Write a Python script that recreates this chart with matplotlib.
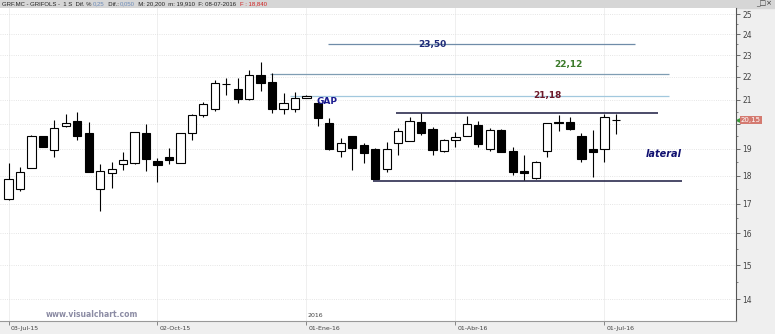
import matplotlib.pyplot as plt
import matplotlib.transforms as mtransforms
from matplotlib.patches import Rectangle
from matplotlib.ticker import FixedLocator, NullFormatter

# weekly candles GRF.MC, 03-Jul-15 .. 08-Jul-16
opens = [17.16, 17.51, 18.29, 19.50, 18.96, 19.91, 20.12, 19.61, 17.50, 18.08,
         18.43, 18.46, 19.61, 18.53, 18.68, 18.48, 19.61, 20.36, 20.59, 21.69,
         21.45, 21.02, 22.09, 21.79, 20.63, 20.63, 21.09, 20.88, 20.04, 18.93,
         19.50, 19.14, 18.99, 18.24, 19.22, 19.32, 20.08, 19.78, 18.92, 19.35,
         19.51, 19.95, 19.01, 19.74, 18.92, 18.16, 17.91, 18.92, 20.07, 20.06,
         19.51, 18.99, 18.99, 20.17]
highs = [18.46, 18.32, 19.55, 19.52, 20.15, 20.42, 20.49, 20.07, 18.41, 18.52,
         18.89, 19.66, 19.99, 18.65, 19.03, 19.62, 20.42, 20.92, 21.86, 21.94,
         21.96, 22.31, 22.66, 22.19, 21.30, 21.35, 21.21, 20.99, 20.22, 19.42,
         19.51, 19.23, 19.04, 19.28, 19.81, 20.29, 20.46, 19.88, 19.39, 19.65,
         20.33, 20.12, 19.81, 19.80, 19.09, 18.77, 18.53, 20.05, 20.36, 20.29,
         19.61, 19.74, 20.42, 20.42]
lows = [17.12, 17.45, 18.27, 19.08, 18.68, 19.87, 19.35, 18.13, 16.76, 17.55,
        18.20, 18.42, 18.17, 17.75, 18.41, 18.47, 19.35, 20.29, 20.52, 21.21,
        20.87, 21.01, 21.39, 20.45, 20.40, 20.49, 21.09, 19.91, 18.96, 18.70,
        18.20, 18.45, 17.87, 18.14, 18.77, 19.31, 19.55, 18.77, 18.90, 19.09,
        19.50, 19.09, 18.93, 18.88, 18.02, 17.83, 17.89, 18.70, 19.71, 19.76,
        18.51, 17.93, 18.51, 19.57]
closes = [17.87, 18.13, 19.50, 19.09, 19.82, 20.04, 19.51, 18.14, 18.16, 18.26,
          18.56, 19.65, 18.62, 18.39, 18.57, 19.61, 20.38, 20.82, 21.71, 21.67,
          21.05, 22.09, 21.74, 20.63, 20.88, 21.09, 21.18, 20.22, 19.01, 19.25,
          19.05, 18.86, 17.88, 18.99, 19.70, 20.10, 19.63, 18.96, 19.35, 19.46,
          19.97, 19.19, 19.73, 18.89, 18.13, 18.08, 18.52, 20.02, 20.05, 19.77,
          18.63, 18.89, 20.26, 20.15]

date_labels = ['03-Jul-15', '02-Oct-15', '01-Ene-16', '01-Abr-16', '01-Jul-16']
date_weeks = [0, 13, 26, 39, 52]
price_ticks = [14, 15, 16, 17, 18, 19, 20, 21, 22, 23, 24, 25]
price_tick_labels = ['14', '15', '16', '17', '18', '19', '', '21', '22', '23', '24', '25']

levels = [23.50, 22.12, 21.18]
level_labels = ['23,50', '22,12', '21,18']
lateral_top = 20.46
lateral_bottom = 17.80
last_price = 20.15

header_parts = ['GRF.MC - GRIFOLS -  1 S  Dif. % ', '0,25', '  Dif.: ', '0,050',
                '  M: 20,200  m: 19,910  F: 08-07-2016  ', 'F : 18,840']
header_colors = ['#222222', '#6a8ab8', '#222222', '#6a8ab8', '#222222', '#d02020']

W, H = 775, 334
fig = plt.figure(figsize=(W / 100, H / 100), dpi=100, facecolor='#efefef')
ax = fig.add_axes([0, 13 / H, 735.5 / W, 313 / H], facecolor='white')
ax.set_yscale('log')

x = list(range(len(opens)))
ax.vlines(x, lows, highs, color='black', lw=0.8, zorder=2)
for i in x:
    up = closes[i] >= opens[i]
    ax.bar(i, abs(closes[i] - opens[i]), bottom=min(opens[i], closes[i]), width=0.72,
           color='white' if up else 'black', edgecolor='black', lw=0.8, zorder=3)

# resistance levels
ax.hlines(levels[0], 27.9, 54.7, color='#6f8ca8', lw=0.9, zorder=1)
ax.hlines(levels[1], 22.8, 57.6, color='#7f9db3', lw=0.9, zorder=1)
ax.hlines(levels[2], 24.6, 57.6, color='#a2c8de', lw=0.9, zorder=1)
ax.text(37.0, levels[0], level_labels[0], color='#1e2a78', fontsize=6.5,
        fontweight='bold', ha='center', va='center', zorder=4)
ax.text(48.9, 22.55, level_labels[1], color='#3b7a2a', fontsize=6.5,
        fontweight='bold', ha='center', va='center', zorder=4)
ax.text(47.0, levels[2], level_labels[2], color='#6e1a2a', fontsize=6.5,
        fontweight='bold', ha='center', va='center', zorder=4)

# lateral channel
ax.hlines(lateral_top, 33.8, 56.7, color='#1a1a40', lw=1.1, zorder=1)
ax.hlines(lateral_bottom, 31.8, 58.8, color='#1a1a40', lw=1.1, zorder=1)
ax.text(57.2, 18.79, 'lateral', color='#101070', fontsize=7, fontweight='bold',
        fontstyle='italic', ha='center', va='center')
ax.text(27.8, 20.92, 'GAP', color='#1a1a90', fontsize=6.5, fontweight='bold',
        ha='center', va='center', zorder=4)

ax.set_xlim(-0.742, 63.44)
ax.set_ylim(13.39, 25.31)

# y axis on the right
ax.yaxis.tick_right()
ax.yaxis.set_major_locator(FixedLocator(price_ticks))
ax.yaxis.set_major_formatter(plt.FixedFormatter(price_tick_labels))
ax.yaxis.set_minor_locator(FixedLocator([t + 0.5 for t in price_ticks[:-1]]))
ax.yaxis.set_minor_formatter(NullFormatter())
ax.tick_params(axis='y', which='major', length=3, width=0.6, color='#555555',
               labelsize=5.5, labelcolor='#444444', pad=2)
ax.tick_params(axis='y', which='minor', length=1.5, width=0.5, color='#555555')

ax.set_xticks(date_weeks, date_labels)
ax.tick_params(axis='x', length=3, width=0.6, color='#777777', labelsize=4.5,
               labelcolor='#444444', pad=0.5)
for lbl in ax.get_xticklabels():
    lbl.set_ha('left')
    lbl.set_transform(lbl.get_transform() + mtransforms.ScaledTranslation(2 / 100, 0, fig.dpi_scale_trans))

ax.grid(axis='y', which='major', color='#dddddd', ls=':', lw=0.6)
ax.grid(axis='x', color='#ececec', lw=0.6)
ax.set_axisbelow(True)

for s in ['left', 'top']:
    ax.spines[s].set_visible(False)
ax.spines['right'].set_color('#555555')
ax.spines['right'].set_linewidth(0.8)
ax.spines['bottom'].set_color('#999999')
ax.spines['bottom'].set_linewidth(0.8)

trans = mtransforms.blended_transform_factory(ax.transAxes, ax.transData)
ax.text(1 + 5.5 / 735.5, last_price, '20,15', transform=trans, fontsize=5, color='white',
        ha='left', va='center', clip_on=False,
        bbox=dict(boxstyle='square,pad=0.15', fc='#d47a70', ec='none'))
ax.plot([1 + 2 / 735.5], [last_price], marker='<', ms=2.5, color='#3a9a3a',
        transform=trans, clip_on=False)

ax.text(26.05, 0.016, '2016', transform=mtransforms.blended_transform_factory(ax.transData, ax.transAxes),
        fontsize=4.5, color='#444444', ha='left', va='center')
ax.text(91.5 / 735.5, 0.022, 'www.visualchart.com', transform=ax.transAxes, fontsize=5.5,
        fontweight='bold', color='#8c8ca4', ha='center', va='center')

# header bar
fig.add_artist(Rectangle((0, 1 - 8 / H), 1, 8 / H, transform=fig.transFigure,
                         color='#d6d6d6', zorder=0))
ty = 1 - 4 / H
renderer = fig.canvas.get_renderer()
xpos = 2
for part, col in zip(header_parts, header_colors):
    t = fig.text(xpos / W, ty, part, fontsize=4.3, family='Liberation Sans',
                 va='center', color=col)
    xpos += t.get_window_extent(renderer).width
fig.text(772 / W, ty, '_□×', fontsize=5, va='center', ha='right', color='#333333')

fig.savefig('out.png', dpi=100, facecolor=fig.get_facecolor())
